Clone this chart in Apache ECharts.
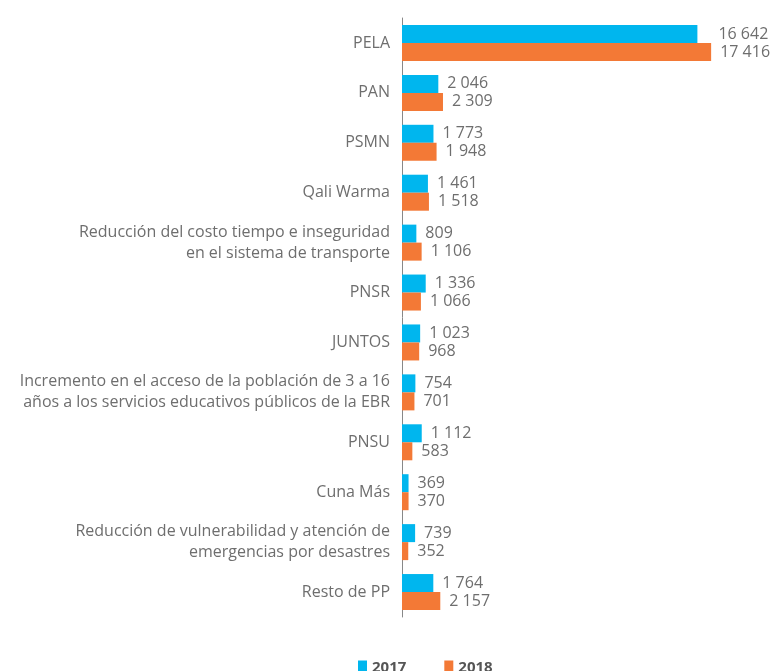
<!DOCTYPE html>
<html>
<head>
<meta charset="utf-8">
<script src="https://cdn.jsdelivr.net/npm/echarts@6/dist/echarts.min.js"></script>
<style>
  html, body { margin: 0; padding: 0; background: #fff; }
  #chart { width: 772px; height: 671px; }
</style>
</head>
<body>
<div id="chart"></div>
<script>
// categorías (de arriba hacia abajo)
const categories = [
  'PELA',
  'PAN',
  'PSMN',
  'Qali Warma',
  'Reducción del costo tiempo e inseguridad\nen el sistema de transporte',
  'PNSR',
  'JUNTOS',
  'Incremento en el acceso de la población de 3 a 16\naños a los servicios educativos públicos de la EBR',
  'PNSU',
  'Cuna Más',
  'Reducción de vulnerabilidad y atención de\nemergencias por desastres',
  'Resto de PP'
];
const values2017 = [16642, 2046, 1773, 1461, 809, 1336, 1023, 754, 1112, 369, 739, 1764];
const values2018 = [17416, 2309, 1948, 1518, 1106, 1066, 968, 701, 583, 370, 352, 2157];

const FONT = '"Open Sans", sans-serif';
const fmt = v => String(v).replace(/\B(?=(\d{3})+(?!\d))/g, ' ');

const chart = echarts.init(document.getElementById('chart'));

const labelStyle = {
  show: true,
  position: 'right',
  distance: 9,
  color: '#6e6e6e',
  fontFamily: FONT,
  fontSize: 16,
  formatter: p => fmt(p.value)
};

// la etiqueta 2017 de PELA va alineada con la de 2018
const data2017 = values2017.map((v, i) =>
  i === 0 ? { value: v, label: { distance: 21 } } : v
);

chart.setOption({
  backgroundColor: '#fff',
  animation: false,
  grid: { left: 402, right: 15, top: 18, bottom: 54, containLabel: false },
  legend: {
    top: 655,
    left: 353,
    itemWidth: 9,
    itemHeight: 14,
    itemGap: 38,
    icon: 'rect',
    textStyle: { color: '#555', fontWeight: 'bold', fontSize: 15, fontFamily: FONT },
    data: ['2017', '2018']
  },
  xAxis: {
    type: 'value',
    min: 0,
    max: 20000,
    show: false
  },
  yAxis: {
    type: 'category',
    inverse: true,
    data: categories,
    axisLine: { show: true, lineStyle: { color: '#888', width: 1 } },
    axisTick: { show: false },
    axisLabel: {
      color: '#6e6e6e',
      fontFamily: FONT,
      fontSize: 16,
      lineHeight: 21,
      margin: 12,
      align: 'right'
    }
  },
  series: [
    {
      name: '2017',
      type: 'bar',
      data: data2017,
      barWidth: 18,
      barGap: '0%',
      itemStyle: { color: '#00b6ee' },
      label: labelStyle
    },
    {
      name: '2018',
      type: 'bar',
      data: values2018,
      barWidth: 18,
      itemStyle: { color: '#f37936' },
      label: labelStyle
    }
  ]
});
</script>
</body>
</html>
